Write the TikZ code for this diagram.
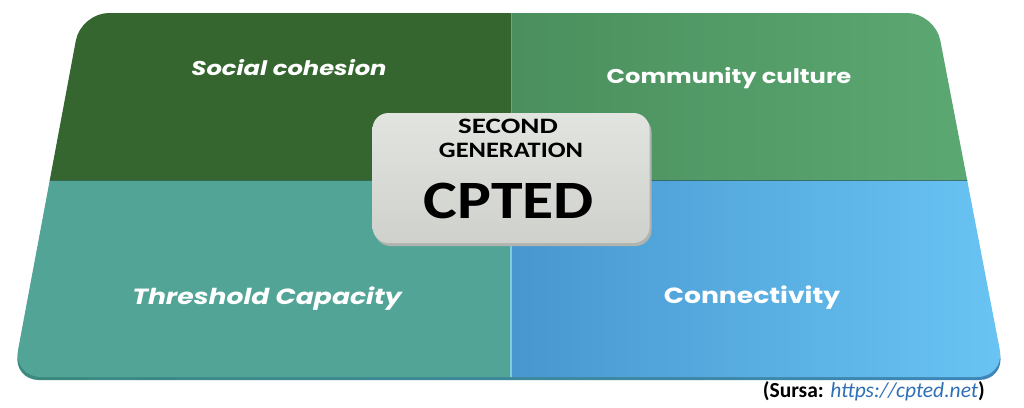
\documentclass[tikz,border=0pt]{standalone}
\usepackage{fontspec}
\setmainfont{Poppins}
\newfontfamily\calfont{Carlito}
\definecolor{tlgreen}{HTML}{35662F}
\definecolor{trgreenL}{HTML}{4A8F5D}
\definecolor{trgreenR}{HTML}{5EAB75}
\definecolor{blteal}{HTML}{52A497}
\definecolor{brblueL}{HTML}{4897CF}
\definecolor{brblueR}{HTML}{6AC6F5}
\definecolor{rimL}{HTML}{3B8A7E}
\definecolor{rimR}{HTML}{3E86B8}
\definecolor{boxtop}{HTML}{E2E4E0}
\definecolor{boxbot}{HTML}{CED1CC}
\definecolor{boxrimc}{HTML}{B0B3AE}
\definecolor{linkblue}{HTML}{2F6FB5}
\tikzset{
  quadlabel/.style={text=white,font=\fontsize{20}{24}\selectfont\bfseries,inner sep=0pt,anchor=base,xscale=1.21},
  quadlabelit/.style={quadlabel,font=\fontsize{20}{24}\selectfont\bfseries\itshape},
  cbox/.style={rounded corners=16pt,minimum width=277pt,minimum height=130pt,inner sep=0pt,
    top color=boxtop,bottom color=boxbot},
  cboxrim/.style={rounded corners=16pt,minimum width=277pt,minimum height=130pt,inner sep=0pt,fill=boxrimc},
  boxtext/.style={inner sep=0pt,anchor=base,text=black},
}
\def\boardpath{(508,13) -- (935,13) -- (1005,377) -- (13,377) -- (81,13) -- cycle}
\begin{document}
\begin{tikzpicture}[x=1pt,y=-1pt]
\useasboundingbox (0,0) rectangle (1024,407);
\fill[white] (0,0) rectangle (1024,407);
% rim of the board
\shade[left color=rimL,right color=rimR,rounded corners=26pt,yshift=-3pt] \boardpath;
% board quadrants
\begin{scope}
  \clip[rounded corners=28pt] \boardpath;
  \fill[tlgreen] (0,0) rectangle (511,180);
  \shade[left color=trgreenL,right color=trgreenR] (511,0) rectangle (1024,180);
  \fill[blteal] (0,180) rectangle (511,400);
  \shade[left color=brblueL,right color=brblueR] (511,180) rectangle (1024,400);
  \draw[line width=1pt,black!35!tlgreen,opacity=0.6] (0,180) -- (1024,180);
  \draw[line width=1pt,white!40!trgreenL,opacity=0.5] (511,0) -- (511,180);
  \draw[line width=1.2pt,cyan!40!white,opacity=0.7] (511,180) -- (511,400);
\end{scope}
% labels
\node[quadlabelit] (social) at (289,75) {Social cohesion};
\node[quadlabel] (community) at (729,83) {Community culture};
\node[quadlabelit,font=\fontsize{22}{26}\selectfont\bfseries\itshape] (threshold) at (267,304) {Threshold Capacity};
\node[quadlabel,font=\fontsize{22}{26}\selectfont\bfseries] (connect) at (752,303) {Connectivity};
% centre box
\node[cboxrim] (boxrim) at (513,181) {};
\node[cbox] (box) at (511,178) {};
\node[boxtext,xscale=1.32,font=\calfont\fontsize{22}{26}\selectfont\bfseries] (second) at (508,133) {SECOND};
\node[boxtext,xscale=1.2,font=\calfont\fontsize{22}{26}\selectfont\bfseries] (generation) at (511,157) {GENERATION};
\node[boxtext,xscale=1.18,font=\calfont\fontsize{54}{60}\selectfont\bfseries] (cpted) at (509,218) {CPTED};
% source
\node[boxtext,anchor=base east,font=\calfont\fontsize{21.5}{26}\selectfont] (source) at (985,397) {\textbf{(Sursa: }{\color{linkblue}\itshape https://cpted.net}\textbf{)}};
\end{tikzpicture}
\end{document}
